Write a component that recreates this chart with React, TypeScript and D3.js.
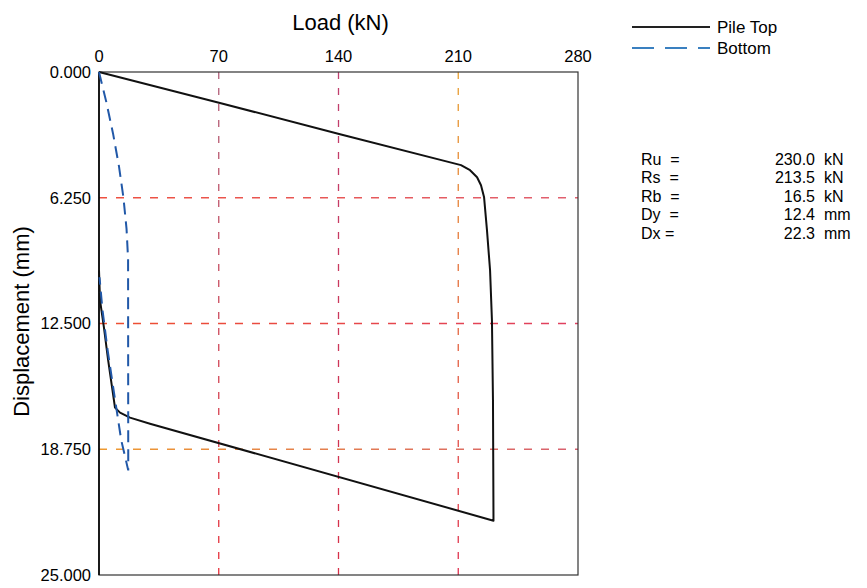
//@ts-nocheck
import React, {useEffect, useRef} from 'react';
import * as d3 from 'd3';

// load (kN), displacement (mm)
const pileTopLoad = [0, 70.7, 140.9, 211.6, 216.9, 221, 223.3, 225.1, 226.8, 228.6, 229.7, 230.3, 230.6,
    29.8, 18.1, 12.3, 9.35, 5.3, 2.9, 0.6, 0];
const pileTopDisp = [0, 1.54, 3.09, 4.63, 4.88, 5.23, 5.63, 6.23, 7.87, 9.86, 12.35, 16.33, 22.3,
    17.48, 17.18, 16.93, 16.68, 14.3, 12.7, 11.35, 9.86];

const bottomLoad = [0, 4.3, 8.3, 11.7, 14.3, 16.1, 17.0, 17.1, 13, 9.4, 5, 2, 0.3];
const bottomDisp = [0, 1.5, 3.1, 4.7, 6.25, 7.8, 9.3, 19.8, 18.3, 16.3, 13.8, 11.8, 10.2];

const xTicks = [0, 70, 140, 210, 280];
const yTicks = [0, 6.25, 12.5, 18.75, 25];

const vGrid = [
    {v: 70, top: '#b0607a', bottom: '#e8303a'},
    {v: 140, top: '#c04070', bottom: '#d83048'},
    {v: 210, top: '#e8a030', bottom: '#e03050'},
];
const hGrid = [
    {v: 6.25, left: '#ee5040', right: '#e06070'},
    {v: 12.5, left: '#ee5030', right: '#e04060'},
    {v: 18.75, left: '#ee9a30', right: '#d86070'},
];

const legendItems = ['Pile Top', 'Bottom'];

const statNames = ['Ru  =', 'Rs  =', 'Rb  =', 'Dy  =', 'Dx ='];
const statValues = ['230.0', '213.5', '16.5', '12.4', '22.3'];
const statUnits = ['kN', 'kN', 'kN', 'mm', 'mm'];

const FONT = '"Liberation Sans", Arial, sans-serif';

const App: React.FC = () => {
    const svgRef = useRef<SVGSVGElement | null>(null);

    useEffect(() => {
        const svg = d3.select(svgRef.current);
        svg.selectAll('*').remove();

        const margin = {top: 72, left: 99};
        const width = 479;
        const height = 503;

        const x = d3.scaleLinear().domain([0, 280]).range([0, width]);
        const y = d3.scaleLinear().domain([0, 25]).range([0, height]);

        const defs = svg.append('defs');
        vGrid.forEach(function (g, i) {
            const grad = defs.append('linearGradient')
                .attr('id', 'vg' + i)
                .attr('gradientUnits', 'userSpaceOnUse')
                .attr('x1', 0).attr('y1', 0).attr('x2', 0).attr('y2', height);
            grad.append('stop').attr('offset', '0%').attr('stop-color', g.top);
            grad.append('stop').attr('offset', '100%').attr('stop-color', g.bottom);
        });
        hGrid.forEach(function (g, i) {
            const grad = defs.append('linearGradient')
                .attr('id', 'hg' + i)
                .attr('gradientUnits', 'userSpaceOnUse')
                .attr('x1', 0).attr('y1', 0).attr('x2', width).attr('y2', 0);
            grad.append('stop').attr('offset', '0%').attr('stop-color', g.left);
            grad.append('stop').attr('offset', '100%').attr('stop-color', g.right);
        });

        const g = svg.append('g')
            .attr('transform', 'translate(' + margin.left + ',' + margin.top + ')');

        // grid
        g.selectAll('line.vgrid')
            .data(vGrid)
            .enter().append('line')
            .attr('class', 'vgrid')
            .attr('x1', d => x(d.v)).attr('x2', d => x(d.v))
            .attr('y1', 0).attr('y2', height)
            .attr('stroke', (d, i) => 'url(#vg' + i + ')')
            .attr('stroke-width', 1.3)
            .attr('stroke-dasharray', '7,9');
        g.selectAll('line.hgrid')
            .data(hGrid)
            .enter().append('line')
            .attr('class', 'hgrid')
            .attr('y1', d => y(d.v)).attr('y2', d => y(d.v))
            .attr('x1', 0).attr('x2', width)
            .attr('stroke', (d, i) => 'url(#hg' + i + ')')
            .attr('stroke-width', 1.3)
            .attr('stroke-dasharray', '8,9');

        // frame
        g.append('rect')
            .attr('width', width).attr('height', height)
            .attr('fill', 'none')
            .attr('stroke', '#333')
            .attr('stroke-width', 1.2);
        g.append('line')
            .attr('x1', 0).attr('x2', 0).attr('y1', 0).attr('y2', height)
            .attr('stroke', '#000').attr('stroke-width', 1.6);

        // tick labels
        g.selectAll('text.xt')
            .data(xTicks)
            .enter().append('text')
            .attr('class', 'xt')
            .attr('x', d => x(d))
            .attr('y', -10)
            .attr('text-anchor', 'middle')
            .attr('font-family', FONT)
            .attr('font-size', 16.5)
            .text(d => d);
        g.selectAll('text.yt')
            .data(yTicks)
            .enter().append('text')
            .attr('class', 'yt')
            .attr('x', -8)
            .attr('y', d => y(d))
            .attr('dy', '0.35em')
            .attr('text-anchor', 'end')
            .attr('font-family', FONT)
            .attr('font-size', 16.5)
            .text(d => d3.format('.3f')(d));

        // axis titles
        svg.append('text')
            .attr('x', margin.left + x(140) + 2)
            .attr('y', 30)
            .attr('text-anchor', 'middle')
            .attr('font-family', FONT)
            .attr('font-size', 22)
            .text('Load (kN)');
        svg.append('text')
            .attr('transform', 'translate(29,' + (margin.top + y(12.5) - 2) + ')rotate(-90)')
            .attr('text-anchor', 'middle')
            .attr('font-family', FONT)
            .attr('font-size', 22)
            .text('Displacement (mm)');

        const line = d3.line()
            .x(d => x(d[0]))
            .y(d => y(d[1]))
            .curve(d3.curveLinear);

        const topPts = pileTopLoad.map((v, i) => [v, pileTopDisp[i]]);
        const botPts = bottomLoad.map((v, i) => [v, bottomDisp[i]]);

        g.append('path')
            .attr('d', line(topPts))
            .attr('fill', 'none')
            .attr('stroke', '#111')
            .attr('stroke-width', 2)
            .attr('stroke-linejoin', 'round');
        g.append('path')
            .attr('d', line(botPts))
            .attr('fill', 'none')
            .attr('stroke', '#2158a8')
            .attr('stroke-width', 2)
            .attr('stroke-dasharray', '12,7');

        // legend
        const leg = svg.append('g').attr('transform', 'translate(632,27)');
        leg.selectAll('line')
            .data(legendItems)
            .enter().append('line')
            .attr('x1', 0).attr('x2', 78)
            .attr('y1', (d, i) => i * 21).attr('y2', (d, i) => i * 21)
            .attr('stroke', (d, i) => i === 0 ? '#222' : '#3a80c0')
            .attr('stroke-width', 2)
            .attr('stroke-dasharray', (d, i) => i === 0 ? null : '22,11');
        leg.selectAll('text')
            .data(legendItems)
            .enter().append('text')
            .attr('x', 85)
            .attr('y', (d, i) => i * 21)
            .attr('dy', '0.35em')
            .attr('font-family', FONT)
            .attr('font-size', 17)
            .text(d => d);

        // results
        const stats = svg.append('g').attr('transform', 'translate(641,159)');
        stats.selectAll('text.sn')
            .data(statNames)
            .enter().append('text')
            .attr('class', 'sn')
            .attr('x', 0)
            .attr('y', (d, i) => i * 18.5)
            .attr('dy', '0.35em')
            .attr('font-family', FONT)
            .attr('font-size', 16)
            .style('white-space', 'pre')
            .text(d => d);
        stats.selectAll('text.sv')
            .data(statValues)
            .enter().append('text')
            .attr('class', 'sv')
            .attr('x', 174)
            .attr('y', (d, i) => i * 18.5)
            .attr('dy', '0.35em')
            .attr('text-anchor', 'end')
            .attr('font-family', FONT)
            .attr('font-size', 16)
            .text(d => d);
        stats.selectAll('text.su')
            .data(statUnits)
            .enter().append('text')
            .attr('class', 'su')
            .attr('x', 183)
            .attr('y', (d, i) => i * 18.5)
            .attr('dy', '0.35em')
            .attr('font-family', FONT)
            .attr('font-size', 16)
            .text(d => d);
    }, []);

    return (
        <svg ref={svgRef} width={867} height={588}
             style={{position: 'absolute', left: 0, top: 0, background: '#fff'}}/>
    );
};

export default App;
